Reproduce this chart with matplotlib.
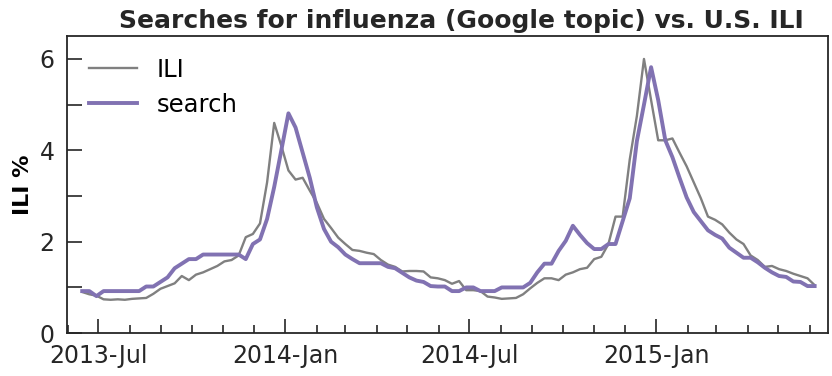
import numpy as np
import pandas as pd
import matplotlib
matplotlib.use('Agg')
import matplotlib.pyplot as plt
import matplotlib.dates as mdates

# weekly values (week ending Saturday)
weeks = pd.date_range('2013-06-15', periods=104, freq='7D')

ili = [0.90, 0.85, 0.82, 0.74, 0.73, 0.74, 0.73, 0.75, 0.76, 0.77,
       0.86, 0.97, 1.03, 1.09, 1.25, 1.16, 1.28, 1.33, 1.40, 1.47,
       1.57, 1.60, 1.70, 2.10, 2.17, 2.40, 3.30, 4.60, 4.10, 3.56,
       3.36, 3.40, 3.12, 2.85, 2.50, 2.30, 2.09, 1.95, 1.82, 1.80,
       1.76, 1.73, 1.60, 1.50, 1.45, 1.35, 1.36, 1.36, 1.35, 1.22,
       1.20, 1.16, 1.08, 1.14, 0.94, 0.94, 0.92, 0.80, 0.78, 0.75,
       0.76, 0.77, 0.85, 0.98, 1.10, 1.20, 1.20, 1.16, 1.28, 1.33,
       1.40, 1.43, 1.62, 1.67, 1.95, 2.55, 2.55, 3.80, 4.75, 6.00,
       5.10, 4.22, 4.22, 4.26, 3.95, 3.65, 3.30, 2.95, 2.55, 2.48,
       2.38, 2.20, 2.05, 1.95, 1.70, 1.60, 1.45, 1.47, 1.40, 1.36,
       1.30, 1.25, 1.20, 1.05]

search = [0.92, 0.92, 0.81, 0.92, 0.92, 0.92, 0.92, 0.92, 0.92, 1.02,
          1.02, 1.12, 1.22, 1.42, 1.52, 1.62, 1.62, 1.72, 1.72, 1.72,
          1.72, 1.72, 1.72, 1.62, 1.95, 2.05, 2.50, 3.20, 4.00, 4.81,
          4.50, 3.95, 3.40, 2.75, 2.28, 2.00, 1.88, 1.72, 1.62, 1.53,
          1.53, 1.53, 1.53, 1.45, 1.42, 1.32, 1.22, 1.15, 1.12, 1.03,
          1.02, 1.02, 0.92, 0.92, 1.00, 1.00, 0.92, 0.92, 0.92, 1.00,
          1.00, 1.00, 1.00, 1.10, 1.33, 1.52, 1.52, 1.80, 2.02, 2.35,
          2.15, 1.97, 1.84, 1.84, 1.95, 1.95, 2.45, 2.95, 4.20, 5.00,
          5.82, 5.10, 4.22, 3.85, 3.40, 2.97, 2.65, 2.45, 2.25, 2.15,
          2.07, 1.87, 1.76, 1.65, 1.65, 1.55, 1.43, 1.33, 1.25, 1.23,
          1.13, 1.12, 1.03, 1.03]

ytick_vals = [0, 1, 2, 3, 4, 5, 6]
ytick_labels = ['0', '', '2', '', '4', '', '6']

fig = plt.figure(figsize=(8.32, 3.76), dpi=100)
ax = fig.add_axes([0.0805, 0.114, 0.9145, 0.79])

ax.plot(weeks, ili, color='gray', lw=1.7, label='ILI')
ax.plot(weeks, search, color='#8172B2', lw=2.8, label='search')

ax.set_xlim(pd.Timestamp('2013-05-31'), pd.Timestamp('2015-06-19'))
ax.set_ylim(0, 6.5)
ax.set_yticks(ytick_vals)
ax.set_yticklabels(ytick_labels)

ax.xaxis.set_major_locator(mdates.MonthLocator(bymonth=[1, 7]))
ax.xaxis.set_major_formatter(mdates.DateFormatter('%Y-%b'))
ax.xaxis.set_minor_locator(mdates.MonthLocator())

ax.tick_params(axis='both', which='both', direction='in', labelsize=17,
               width=1.2, color='#262626', labelcolor='#262626')
ax.tick_params(axis='x', which='major', length=10, pad=8)
ax.tick_params(axis='x', which='minor', length=5.5)
ax.tick_params(axis='y', length=11, pad=9)
for s in ax.spines.values():
    s.set_linewidth(1.3)
    s.set_color('#262626')

ax.set_ylabel('ILI %', fontsize=16, fontweight='bold', labelpad=5)
ax.set_title('Searches for influenza (Google topic) vs. U.S. ILI',
             fontsize=18, fontweight='bold', x=0.518, pad=6, color='#262626')

ax.legend(loc='upper left', frameon=False, fontsize=17.5, handlelength=2.0,
          borderaxespad=0.5, labelspacing=0.45, handletextpad=0.8)

plt.savefig('out.png', dpi=100)
